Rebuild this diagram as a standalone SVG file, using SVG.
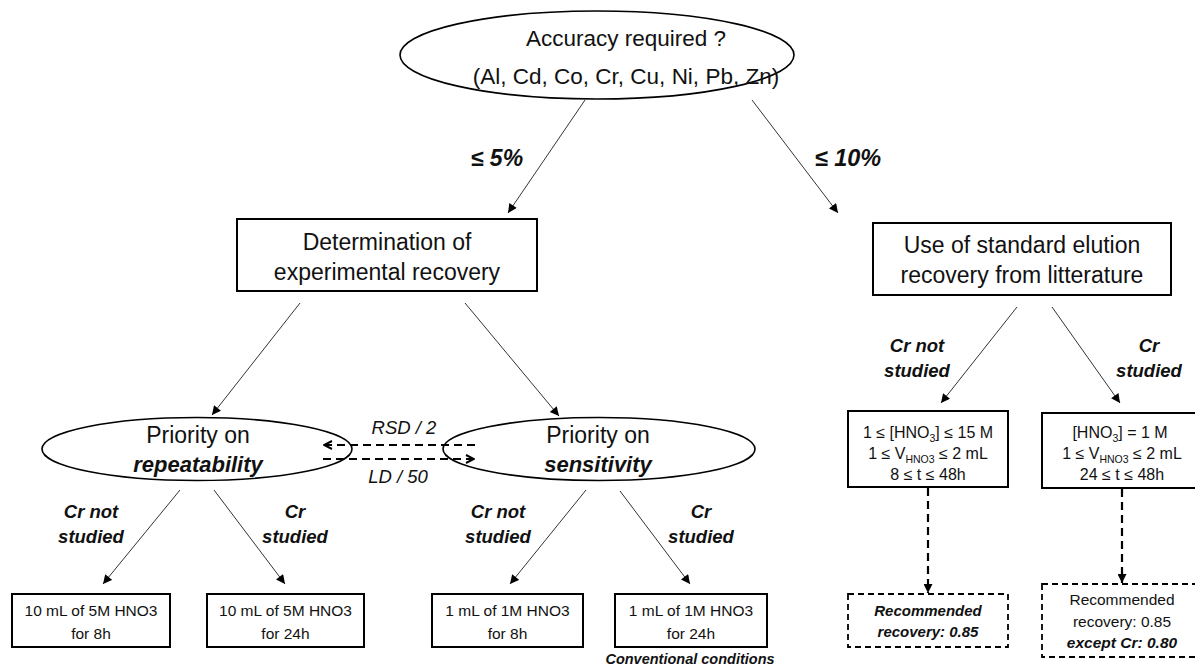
<svg xmlns="http://www.w3.org/2000/svg" width="1195" height="668" viewBox="0 0 1195 668">
<style>
text{font-family:"Liberation Sans",Arial,sans-serif;fill:#111;text-anchor:middle}
.bi{font-weight:bold;font-style:italic}
.it{font-style:italic}
.box{fill:#fff;stroke:#000;stroke-width:2}
.dbox{fill:#fff;stroke:#000;stroke-width:1.8;stroke-dasharray:6 4}
.ell{fill:none;stroke:#000;stroke-width:1.6}
.ln{stroke:#333;stroke-width:1;fill:none;marker-end:url(#ah)}
.dl{stroke:#000;stroke-width:2.2;fill:none;stroke-dasharray:8 5}
</style>
<defs>
<marker id="ah" viewBox="0 0 10 10" refX="10" refY="5" markerWidth="11" markerHeight="9" markerUnits="userSpaceOnUse" orient="auto"><path d="M0,0 L10,5 L0,10 z" fill="#000"/></marker>
<marker id="chev" viewBox="0 0 10 10" refX="9" refY="5" markerWidth="10" markerHeight="11" markerUnits="userSpaceOnUse" orient="auto"><path d="M1,1 L9,5 L1,9" fill="none" stroke="#000" stroke-width="2"/></marker>
</defs>

<g id="n-accuracy">
<ellipse class="ell" cx="597" cy="55" rx="197" ry="44"/>
<text x="626" y="46" font-size="22.5">Accuracy required ?</text>
<text x="626" y="84" font-size="22.5">(Al, Cd, Co, Cr, Cu, Ni, Pb, Zn)</text>
</g>

<g id="n-determination">
<rect class="box" x="237" y="219" width="300" height="72"/>
<text x="387" y="250" font-size="23">Determination of</text>
<text x="387" y="280" font-size="23">experimental recovery</text>
</g>

<g id="n-standard">
<rect class="box" x="873" y="223" width="298" height="72"/>
<text x="1022" y="253" font-size="23">Use of standard elution</text>
<text x="1022" y="283" font-size="23">recovery from litterature</text>
</g>

<g id="n-repeatability">
<ellipse class="ell" cx="197" cy="449" rx="155" ry="31.5"/>
<text x="198" y="443" font-size="23">Priority on</text>
<text x="198" y="472" font-size="22" class="bi">repeatability</text>
</g>

<g id="n-sensitivity">
<ellipse class="ell" cx="599" cy="449" rx="156" ry="31.5"/>
<text x="598" y="443" font-size="23">Priority on</text>
<text x="598" y="472" font-size="22" class="bi">sensitivity</text>
</g>

<g id="n-r8h">
<rect class="box" x="12" y="594" width="158" height="53"/>
<text x="91" y="616" font-size="15.5">10 mL of 5M HNO3</text>
<text x="91" y="639" font-size="15.5">for 8h</text>
</g>

<g id="n-r24h">
<rect class="box" x="207" y="594" width="157" height="53"/>
<text x="285.5" y="616" font-size="15.5">10 mL of 5M HNO3</text>
<text x="285.5" y="639" font-size="15.5">for 24h</text>
</g>

<g id="n-s8h">
<rect class="box" x="432" y="594" width="151" height="53"/>
<text x="507.5" y="616" font-size="15.5">1 mL of 1M HNO3</text>
<text x="507.5" y="639" font-size="15.5">for 8h</text>
</g>

<g id="n-s24h">
<rect class="box" x="615" y="594" width="152" height="53"/>
<text x="691" y="616" font-size="15.5">1 mL of 1M HNO3</text>
<text x="691" y="639" font-size="15.5">for 24h</text>
<text x="690" y="664" font-size="14.5" class="bi">Conventional conditions</text>
</g>

<g id="n-lit-notcr">
<rect class="box" x="848" y="411" width="160" height="76"/>
<text x="928" y="438" font-size="16">1 ≤ [HNO<tspan font-size="10.5" dy="4">3</tspan><tspan dy="-4">] ≤ 15 M</tspan></text>
<text x="928" y="459" font-size="16">1 ≤ V<tspan font-size="10.5" dy="4">HNO3</tspan><tspan dy="-4"> ≤ 2 mL</tspan></text>
<text x="928" y="480" font-size="16">8 ≤ t ≤ 48h</text>
</g>

<g id="n-lit-cr">
<rect class="box" x="1042" y="413" width="160" height="75"/>
<text x="1120" y="438" font-size="16">[HNO<tspan font-size="10.5" dy="4">3</tspan><tspan dy="-4">] = 1 M</tspan></text>
<text x="1122" y="459" font-size="16">1 ≤ V<tspan font-size="10.5" dy="4">HNO3</tspan><tspan dy="-4"> ≤ 2 mL</tspan></text>
<text x="1122" y="480" font-size="16">24 ≤ t ≤ 48h</text>
</g>

<g id="n-rec1">
<rect class="dbox" x="848" y="594" width="160" height="53"/>
<text x="928" y="616" font-size="15" class="bi">Recommended</text>
<text x="928" y="637" font-size="15" class="bi">recovery: 0.85</text>
</g>

<g id="n-rec2">
<rect class="dbox" x="1042" y="584" width="160" height="73"/>
<text x="1122" y="605" font-size="15.5">Recommended</text>
<text x="1122" y="627" font-size="15.5">recovery: 0.85</text>
<text x="1122" y="648" font-size="15.5" class="bi">except Cr: 0.80</text>
</g>

<g id="connectors">
<line class="ln" x1="585" y1="100" x2="508" y2="213"/>
<line class="ln" x1="752" y1="100" x2="838" y2="213"/>
<line class="ln" x1="300" y1="303" x2="212" y2="415"/>
<line class="ln" x1="465" y1="303" x2="559" y2="416"/>
<line class="ln" x1="1017" y1="307" x2="941" y2="403"/>
<line class="ln" x1="1052" y1="307" x2="1120" y2="403"/>
<line class="ln" x1="180" y1="490" x2="103" y2="584"/>
<line class="ln" x1="214" y1="490" x2="285" y2="584"/>
<line class="ln" x1="586" y1="490" x2="510" y2="584"/>
<line class="ln" x1="620" y1="491" x2="690" y2="584"/>
<line class="dl" x1="475" y1="445" x2="324" y2="445" marker-end="url(#chev)"/>
<line class="dl" x1="323" y1="459" x2="474" y2="459" marker-end="url(#chev)"/>
<line class="dl" x1="928" y1="488" x2="928" y2="593" marker-end="url(#ah)"/>
<line class="dl" x1="1122" y1="489" x2="1122" y2="583" marker-end="url(#ah)"/>
</g>

<g id="labels">
<text x="497" y="166" font-size="23" class="bi">≤ 5%</text>
<text x="848" y="166" font-size="23.5" class="bi">≤ 10%</text>
<text x="404" y="434" font-size="18.5" class="it">RSD / 2</text>
<text x="398" y="483" font-size="18.5" class="it">LD / 50</text>
<text x="91" y="518" font-size="18.5" class="bi">Cr not</text>
<text x="91" y="543" font-size="18.5" class="bi">studied</text>
<text x="295" y="518" font-size="18.5" class="bi">Cr</text>
<text x="295" y="543" font-size="18.5" class="bi">studied</text>
<text x="498" y="518" font-size="18.5" class="bi">Cr not</text>
<text x="498" y="543" font-size="18.5" class="bi">studied</text>
<text x="701" y="518" font-size="18.5" class="bi">Cr</text>
<text x="701" y="543" font-size="18.5" class="bi">studied</text>
<text x="917" y="352" font-size="18.5" class="bi">Cr not</text>
<text x="917" y="377" font-size="18.5" class="bi">studied</text>
<text x="1149" y="352" font-size="18.5" class="bi">Cr</text>
<text x="1149" y="377" font-size="18.5" class="bi">studied</text>
</g>
</svg>
